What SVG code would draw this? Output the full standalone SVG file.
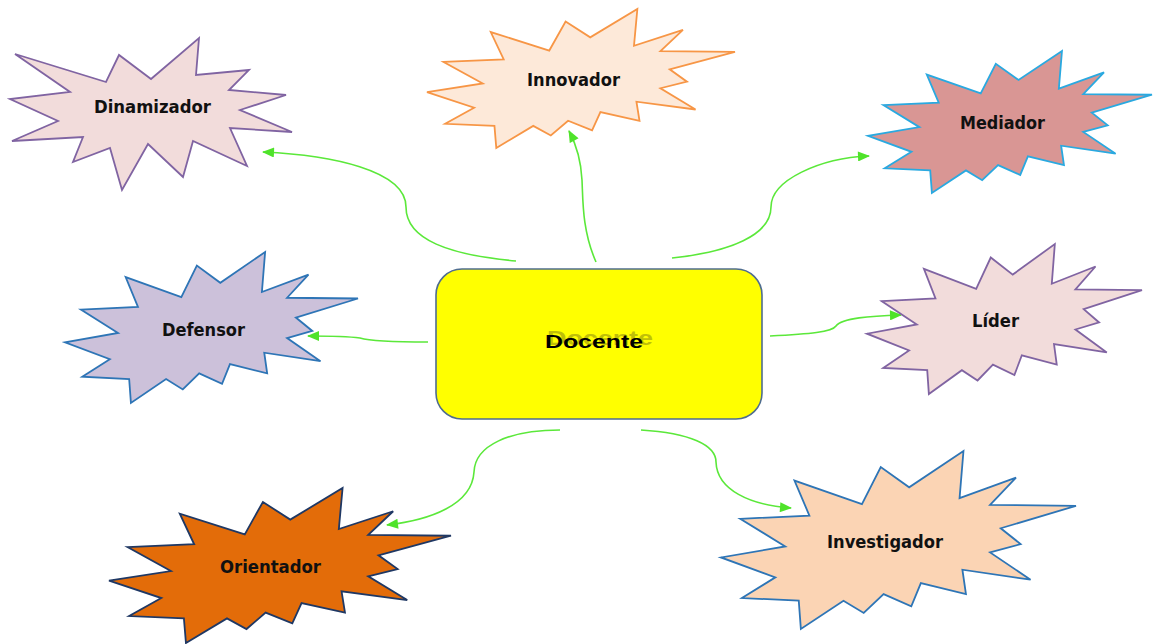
<svg xmlns="http://www.w3.org/2000/svg" xmlns:xlink="http://www.w3.org/1999/xlink" width="1153" height="644" viewBox="0 0 1153 644">
<style>
.lbl{font-family:"DejaVu Sans Condensed","DejaVu Sans",sans-serif;font-weight:bold;font-size:17px;fill:#111;text-anchor:middle}
.con{fill:none;stroke:#5BE83A;stroke-width:1.6;marker-end:url(#ah)}
.burst{stroke-width:1.8;stroke-linejoin:miter}
</style>
<defs>
<path id="bp" vector-effect="non-scaling-stroke" d="M54,381 L249,363 207,166 397,299 450,90 530,204 683,0 672,265 831,150 758,303 1000,308 788,434 844,523 758,570 872,723 680,667 690,804 563,742 536,873 458,804 402,910 345,841 225,1000 219,841 59,826 153,710 0,598 181,536 Z"/>
<marker id="ah" viewBox="0 0 12 10" refX="11" refY="5" markerWidth="13" markerHeight="10" markerUnits="userSpaceOnUse" orient="auto">
<path d="M0,0 L12,5 L0,10 Z" fill="#4FE32A"/>
</marker>
</defs>
<rect width="1153" height="644" fill="#fff"/>
<g id="connectors">
<path class="con" d="M516,261 C450,255 406,240 406,207 C406,170 330,155 263,152"/>
<path class="con" d="M596,262 C582,230 583,200 582,180 C581,160 577,146 569,131"/>
<path class="con" d="M672,258 C730,252 771,235 771,207 C771,180 820,158 869,156"/>
<path class="con" d="M428,342 C390,342 370,341 360,338 C345,336 330,336 308,336"/>
<path class="con" d="M770,336 C810,334 832,332 836,326 C842,318 870,316 901,315"/>
<path class="con" d="M560,430 C510,430 475,445 474,472 C472,505 430,520 387,525"/>
<path class="con" d="M641,430 C690,433 716,445 716,462 C717,490 750,505 791,508"/>
</g>
<g id="dinamizador">
<polygon class="burst" fill="#F2DCDB" stroke="#8064A2" points="15,54 106,82 119,55 151,79 199,38 196,75 249,70 229,90 286,95 240,110 292,132 230,128 247,166 193,141 183,177 148,144 122,190 110,148 73,162 83,137 12,141 58,121 10,99 70,92"/>
<text class="lbl" x="152.5" y="113" textLength="117" lengthAdjust="spacingAndGlyphs">Dinamizador</text>
</g>
<g id="innovador">
<use xlink:href="#bp" class="burst" fill="#FDE9D9" stroke="#F79646" transform="translate(427,9) scale(0.308,0.139)"/>
<text class="lbl" x="573.5" y="86" textLength="93" lengthAdjust="spacingAndGlyphs">Innovador</text>
</g>
<g id="mediador">
<use xlink:href="#bp" class="burst" fill="#D99694" stroke="#2AA9E0" transform="translate(868,51) scale(0.284,0.142)"/>
<text class="lbl" x="1002.5" y="129" textLength="85" lengthAdjust="spacingAndGlyphs">Mediador</text>
</g>
<g id="defensor">
<use xlink:href="#bp" class="burst" fill="#CCC1DA" stroke="#2E75B6" transform="translate(65,252) scale(0.293,0.151)"/>
<text class="lbl" x="203.5" y="336" textLength="83" lengthAdjust="spacingAndGlyphs">Defensor</text>
</g>
<g id="docente">
<rect x="436" y="269" width="326" height="150" rx="26" ry="26" fill="#FFFF00" stroke="#4F6D8F" stroke-width="1.6"/>
<text x="547" y="345" font-family="'Liberation Sans',Arial,sans-serif" font-weight="bold" font-size="20" fill="#8C8C10" opacity="0.55" textLength="106" lengthAdjust="spacingAndGlyphs">Docente</text>
<text x="545" y="348" font-family="'Liberation Sans',Arial,sans-serif" font-weight="bold" font-size="19" fill="#000" textLength="98" lengthAdjust="spacingAndGlyphs">Docente</text>
</g>
<g id="lider">
<use xlink:href="#bp" class="burst" fill="#F2DCDB" stroke="#8064A2" transform="translate(867,244) scale(0.275,0.150)"/>
<text class="lbl" x="995.5" y="327" textLength="47" lengthAdjust="spacingAndGlyphs">Líder</text>
</g>
<g id="orientador">
<use xlink:href="#bp" class="burst" fill="#E36C09" stroke="#1F3864" transform="translate(109,488) scale(0.342,0.155)"/>
<text class="lbl" x="270.5" y="573" textLength="101" lengthAdjust="spacingAndGlyphs">Orientador</text>
</g>
<g id="investigador">
<use xlink:href="#bp" class="burst" fill="#FBD4B4" stroke="#2E75B6" transform="translate(721,451) scale(0.355,0.178)"/>
<text class="lbl" x="885" y="548" textLength="116" lengthAdjust="spacingAndGlyphs">Investigador</text>
</g>
</svg>
